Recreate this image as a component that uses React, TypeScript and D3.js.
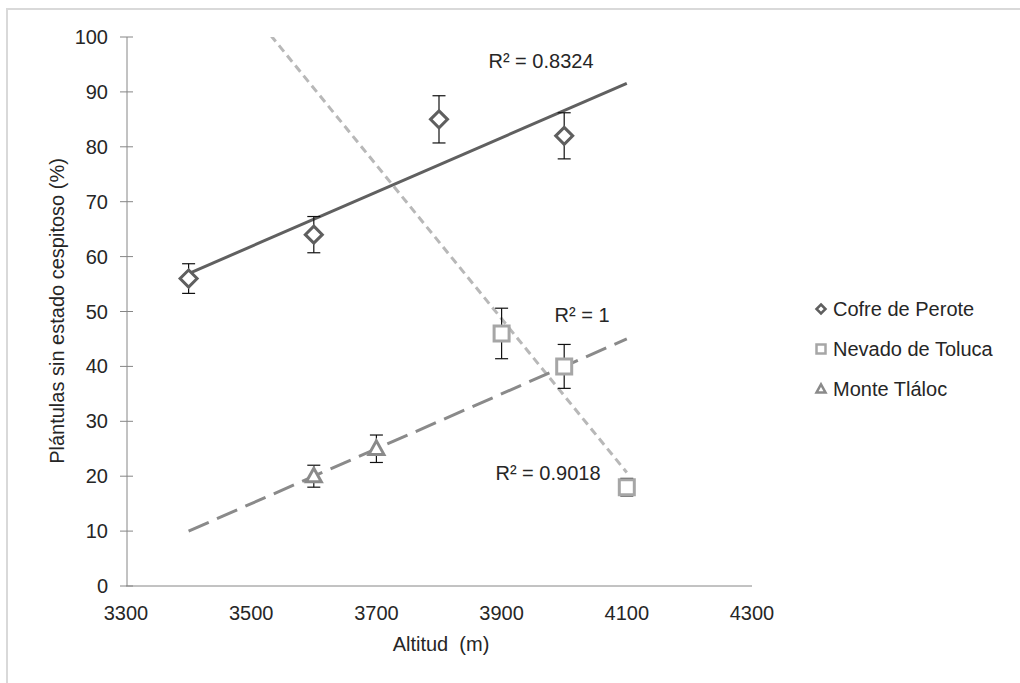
import * as d3 from "d3";

// series
const cofreX = [3400, 3600, 3800, 4000];
const cofreY = [56, 64, 85, 82];
const cofreErr = [2.7, 3.3, 4.3, 4.2];

const nevadoX = [3900, 4000, 4100];
const nevadoY = [46, 40, 18];
const nevadoErr = [4.6, 4, 1.6];

const tlalocX = [3600, 3700];
const tlalocY = [20, 25];
const tlalocErr = [2, 2.5];

const xTicks = [3300, 3500, 3700, 3900, 4100, 4300];
const yTicks = [0, 10, 20, 30, 40, 50, 60, 70, 80, 90, 100];
const trendRange = [3400, 4100];

const FONT = "'Liberation Sans', Arial, sans-serif";
const TEXT = "#262626";

const W = 1020;
const H = 683;

function fit(xs: number[], ys: number[]) {
  const mx = d3.mean(xs)!;
  const my = d3.mean(ys)!;
  const sxy = d3.sum(xs, (x, i) => (x - mx) * (ys[i] - my));
  const sxx = d3.sum(xs, (x) => (x - mx) ** 2);
  const slope = sxy / sxx;
  return (x: number) => my + slope * (x - mx);
}

const diamond = (r: number) => `M0,${-r}L${r},0L0,${r}L${-r},0Z`;
const square = (r: number) => `M${-r},${-r}H${r}V${r}H${-r}Z`;
const triangle = (r: number) =>
  `M0,${-r * 1.05}L${r},${r * 0.75}L${-r},${r * 0.75}Z`;

const series = [
  {
    name: "Cofre de Perote",
    xs: cofreX,
    ys: cofreY,
    err: cofreErr,
    color: "#5f5f5f",
    shape: diamond,
    size: 8.5,
    dash: "none",
    lineColor: "#606060",
    r2: "R² = 0.8324",
    r2pos: [541, 68],
  },
  {
    name: "Nevado de Toluca",
    xs: nevadoX,
    ys: nevadoY,
    err: nevadoErr,
    color: "#a6a6a6",
    shape: square,
    size: 7.5,
    dash: "8,5",
    lineColor: "#b8b8b8",
    r2: "R² = 0.9018",
    r2pos: [548, 480],
  },
  {
    name: "Monte Tláloc",
    xs: tlalocX,
    ys: tlalocY,
    err: tlalocErr,
    color: "#8a8a8a",
    shape: triangle,
    size: 7.5,
    dash: "22,9",
    lineColor: "#8a8a8a",
    r2: "R² = 1",
    r2pos: [582, 322],
  },
];

export default function App() {
  const x = d3.scaleLinear().domain([3300, 4300]).range([126, 752]);
  const y = d3.scaleLinear().domain([0, 100]).range([586, 37]);
  const line = d3
    .line<number>()
    .x((d) => x(d[0]))
    .y((d) => y(d[1]));

  return (
    <div style={{ position: "absolute", left: 0, top: 0 }}>
      <svg width={W} height={H} style={{ display: "block" }}>
        <rect width={W} height={H} fill="white" />
        <rect
          x={7}
          y={9}
          width={W + 20}
          height={H + 20}
          fill="none"
          stroke="#d9d9d9"
          strokeWidth={2}
        />
        <defs>
          <clipPath id="plot">
            <rect
              x={x(3300)}
              y={y(100)}
              width={x(4300) - x(3300)}
              height={y(0) - y(100)}
            />
          </clipPath>
        </defs>

        {/* axes */}
        <g stroke="#868686" strokeWidth={1}>
          <line x1={x(3300) + 1} x2={x(3300) + 1} y1={y(100)} y2={y(0)} />
          <line x1={x(3300)} x2={x(4300)} y1={y(0)} y2={y(0)} />
          {yTicks.map((t) => (
            <line
              key={t}
              x1={x(3300) - 6}
              x2={x(3300) + 7}
              y1={y(t)}
              y2={y(t)}
            />
          ))}
        </g>
        <g fontFamily={FONT} fontSize={20} fill={TEXT}>
          {yTicks.map((t) => (
            <text key={t} x={108} y={y(t) + 7} textAnchor="end">
              {t}
            </text>
          ))}
          {xTicks.map((t) => (
            <text key={t} x={x(t)} y={620} textAnchor="middle">
              {t}
            </text>
          ))}
          <text x={441} y={651} textAnchor="middle" xmlSpace="preserve">
            Altitud  (m)
          </text>
          <text
            transform="translate(64,311) rotate(-90)"
            textAnchor="middle"
          >
            Plántulas sin estado cespitoso (%)
          </text>
        </g>

        {/* trend lines */}
        <g clipPath="url(#plot)" fill="none" strokeWidth={3}>
          {series.map((s) => {
            const f = fit(s.xs, s.ys);
            return (
              <path
                key={s.name}
                d={line(trendRange.map((v) => [v, f(v)]) as any) ?? ""}
                stroke={s.lineColor}
                strokeDasharray={s.dash}
              />
            );
          })}
        </g>

        {/* error bars */}
        <g stroke="#111" strokeWidth={1.2}>
          {series.map((s) =>
            s.xs.map((v, i) => {
              const cx = x(v);
              const top = y(s.ys[i] + s.err[i]);
              const bot = y(s.ys[i] - s.err[i]);
              return (
                <g key={s.name + v}>
                  <line x1={cx} x2={cx} y1={top} y2={bot} />
                  <line x1={cx - 6.5} x2={cx + 6.5} y1={top} y2={top} />
                  <line x1={cx - 6.5} x2={cx + 6.5} y1={bot} y2={bot} />
                </g>
              );
            })
          )}
        </g>

        {/* markers */}
        {series.map((s) => (
          <g key={s.name}>
            {s.xs.map((v, i) => (
              <path
                key={v}
                d={s.shape(s.size)}
                transform={`translate(${x(v)},${y(s.ys[i])})`}
                fill="white"
                stroke={s.color}
                strokeWidth={3}
                strokeLinejoin="miter"
              />
            ))}
          </g>
        ))}

        {/* R² labels */}
        <g fontFamily={FONT} fontSize={20} fill={TEXT} textAnchor="middle">
          {series.map((s) => (
            <text key={s.name} x={s.r2pos[0]} y={s.r2pos[1]}>
              {s.r2}
            </text>
          ))}
        </g>

        {/* legend */}
        <g fontFamily={FONT} fontSize={20} fill={TEXT}>
          {series.map((s, i) => {
            const cy = 309 + i * 40;
            return (
              <g key={s.name}>
                <path
                  d={s.shape(4.5)}
                  transform={`translate(821,${cy})`}
                  fill="white"
                  stroke={s.color}
                  strokeWidth={2.5}
                />
                <text x={833} y={cy + 7}>
                  {s.name}
                </text>
              </g>
            );
          })}
        </g>
      </svg>
    </div>
  );
}
